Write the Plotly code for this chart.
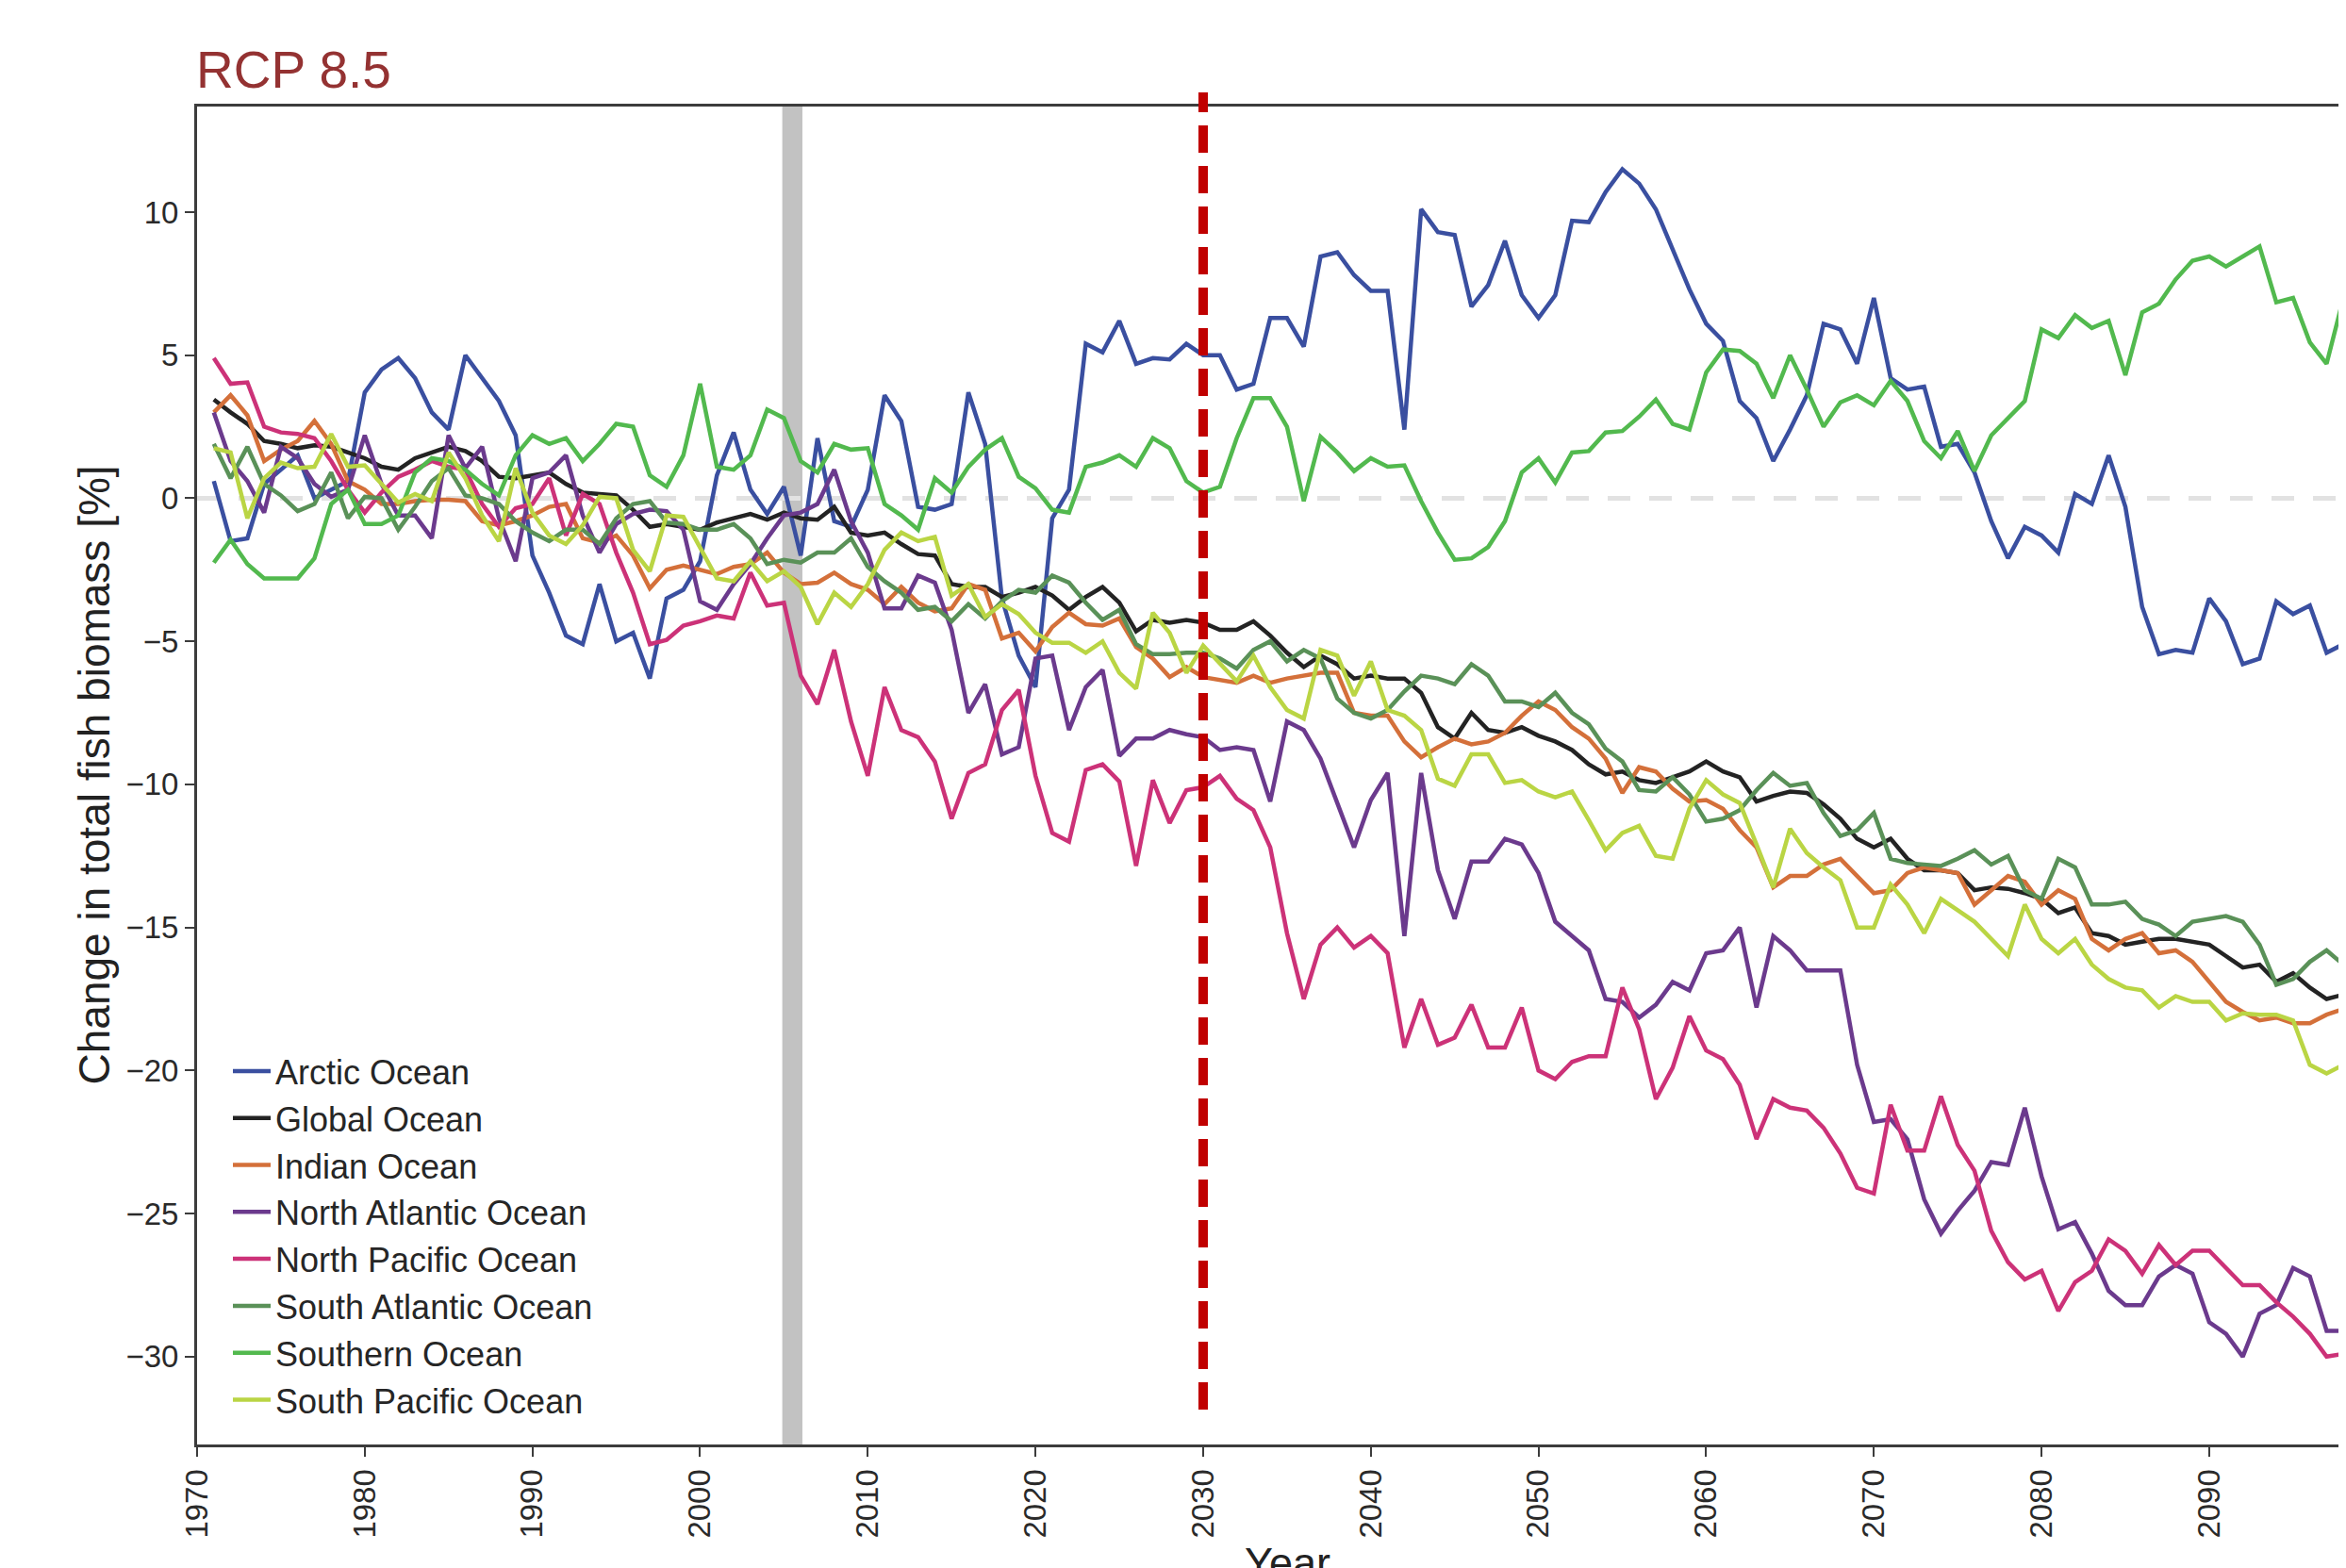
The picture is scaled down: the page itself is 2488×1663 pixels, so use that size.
import plotly.graph_objects as go

years = list(range(1971, 2101))

arctic = [0.6, -1.5, -1.4, 0.5, 1.0, 1.5, 0.0, 0.3, 0.6, 3.7,
          4.5, 4.9, 4.2, 3.0, 2.4, 5.0, 4.2, 3.4, 2.2, -2.0,
          -3.3, -4.8, -5.1, -3.0, -5.0, -4.7, -6.3, -3.5, -3.2, -2.2,
          0.8, 2.3, 0.3, -0.55, 0.4, -2.0, 2.1, -0.8, -1.0, 0.3,
          3.6, 2.7, -0.3, -0.4, -0.2, 3.7, 1.9, -3.5, -5.5, -6.6,
          -0.7, 0.3, 5.4, 5.1, 6.2, 4.7, 4.9, 4.85, 5.4, 5.0,
          5.0, 3.8, 4.0, 6.3, 6.3, 5.3, 8.45, 8.6, 7.8, 7.25,
          7.25, 2.4, 10.1, 9.3, 9.2, 6.7, 7.45, 9.0, 7.1, 6.3,
          7.1, 9.7, 9.65, 10.7, 11.5, 11.0, 10.1, 8.7, 7.3, 6.1,
          5.5, 3.4, 2.8, 1.3, 2.4, 3.6, 6.1, 5.9, 4.7, 7.0,
          4.2, 3.8, 3.9, 1.8, 1.9, 0.9, -0.8, -2.1, -1.0, -1.3,
          -1.9, 0.15, -0.2, 1.5, -0.3, -3.8, -5.45, -5.3, -5.4, -3.5,
          -4.3, -5.8, -5.6, -3.6, -4.05, -3.75, -5.4, -5.1, -5.0, -4.8]

global_ocean = [3.45, 3.0, 2.6, 2.0, 1.9, 1.75, 1.85, 1.8, 1.6, 1.4,
                1.1, 1.0, 1.4, 1.6, 1.8, 1.65, 1.3, 0.75, 0.7, 0.8,
                0.9, 0.5, 0.2, 0.15, 0.1, -0.4, -1.0, -0.9, -1.0, -1.1,
                -0.85, -0.7, -0.55, -0.75, -0.5, -0.7, -0.75, -0.3, -1.2, -1.3,
                -1.2, -1.6, -1.95, -2.0, -3.0, -3.1, -3.1, -3.45, -3.3, -3.1,
                -3.4, -3.9, -3.45, -3.1, -3.65, -4.65, -4.25, -4.35, -4.25, -4.35,
                -4.6, -4.6, -4.3, -4.8, -5.4, -5.9, -5.5, -5.8, -6.3, -6.2,
                -6.3, -6.3, -6.8, -8.0, -8.4, -7.5, -8.1, -8.2, -8.0, -8.3,
                -8.5, -8.8, -9.3, -9.65, -9.55, -9.85, -9.95, -9.75, -9.55, -9.2,
                -9.55, -9.75, -10.6, -10.4, -10.25, -10.3, -10.7, -11.2, -11.9, -12.2,
                -11.9, -12.6, -13.0, -13.0, -13.1, -13.7, -13.6, -13.65, -13.8, -14.0,
                -14.5, -14.3, -15.2, -15.3, -15.6, -15.5, -15.4, -15.4, -15.5, -15.6,
                -16.0, -16.4, -16.3, -16.9, -16.6, -17.1, -17.5, -17.35, -17.4, -17.5]

indian = [3.0, 3.6, 2.9, 1.3, 1.7, 2.0, 2.7, 1.9, 0.6, 0.3,
          -0.2, -0.2, -0.1, -0.05, -0.05, -0.1, -0.8, -0.95, -0.8, -0.6,
          -0.3, -0.2, -1.4, -1.55, -1.3, -2.0, -3.15, -2.5, -2.35, -2.5,
          -2.65, -2.4, -2.3, -1.9, -2.6, -3.0, -2.95, -2.6, -3.0, -3.2,
          -3.7, -3.1, -3.65, -3.95, -3.85, -3.0, -3.2, -4.9, -4.7, -5.35,
          -4.5, -4.0, -4.4, -4.45, -4.2, -5.2, -5.6, -6.25, -5.9, -6.25,
          -6.35, -6.45, -6.2, -6.45, -6.3, -6.2, -6.1, -6.1, -7.5, -7.6,
          -7.6, -8.5, -9.05, -8.7, -8.4, -8.6, -8.5, -8.2, -7.6, -7.1,
          -7.4, -8.0, -8.4, -9.1, -10.3, -9.4, -9.55, -10.15, -10.6, -10.55,
          -10.85, -11.6, -12.2, -13.6, -13.2, -13.2, -12.8, -12.6, -13.2, -13.8,
          -13.7, -13.1, -12.9, -13.0, -13.1, -14.2, -13.7, -13.2, -13.4, -14.2,
          -13.7, -14.0, -15.4, -15.8, -15.4, -15.2, -15.9, -15.8, -16.2, -16.9,
          -17.6, -17.95, -18.25, -18.15, -18.35, -18.35, -18.05, -17.85, -17.8, -17.7]

north_atlantic = [3.0, 1.3, 0.6, -0.5, 1.8, 1.4, 0.5, 0.05, 0.3, 2.2,
                  0.5, -0.6, -0.6, -1.4, 2.2, 1.05, 1.8, -0.7, -2.2, 0.7,
                  0.9, 1.5, -0.6, -1.9, -0.9, -0.55, -0.4, -0.45, -1.1, -3.6,
                  -3.9, -3.0, -2.3, -1.4, -0.6, -0.5, -0.2, 1.0, -0.8, -1.9,
                  -3.85, -3.85, -2.7, -2.95, -4.6, -7.5, -6.5, -8.95, -8.7, -5.6,
                  -5.5, -8.1, -6.6, -6.0, -9.0, -8.4, -8.4, -8.1, -8.25, -8.35,
                  -8.8, -8.7, -8.8, -10.6, -7.8, -8.1, -9.1, -10.6, -12.2, -10.55,
                  -9.6, -15.3, -9.6, -13.0, -14.7, -12.7, -12.7, -11.9, -12.1, -13.1,
                  -14.8, -15.3, -15.8, -17.5, -17.6, -18.15, -17.7, -16.9, -17.2, -15.9,
                  -15.8, -15.0, -17.8, -15.3, -15.8, -16.5, -16.5, -16.5, -19.8, -21.8,
                  -21.7, -22.4, -24.5, -25.7, -24.9, -24.2, -23.2, -23.3, -21.3, -23.7,
                  -25.55, -25.3, -26.4, -27.7, -28.2, -28.2, -27.2, -26.8, -27.1, -28.8,
                  -29.2, -30.0, -28.5, -28.2, -26.9, -27.2, -29.1, -29.1, -29.0, -29.2]

north_pacific = [4.9, 4.0, 4.05, 2.5, 2.3, 2.25, 2.1, 1.3, 0.3, -0.5,
                 0.2, 0.75, 1.0, 1.3, 1.1, 1.0, -0.2, -1.0, -0.35, -0.2,
                 0.7, -1.3, 0.15, -0.2, -1.9, -3.3, -5.1, -4.95, -4.45, -4.3,
                 -4.1, -4.2, -2.6, -3.75, -3.65, -6.2, -7.2, -5.3, -7.8, -9.7,
                 -6.6, -8.1, -8.35, -9.2, -11.2, -9.6, -9.3, -7.4, -6.7, -9.7,
                 -11.7, -12.0, -9.5, -9.3, -9.9, -12.85, -9.85, -11.35, -10.2, -10.1,
                 -9.7, -10.5, -10.9, -12.2, -15.2, -17.5, -15.6, -15.0, -15.7, -15.3,
                 -15.9, -19.2, -17.5, -19.1, -18.85, -17.7, -19.2, -19.2, -17.8, -20.0,
                 -20.3, -19.7, -19.5, -19.5, -17.1, -18.55, -21.0, -19.9, -18.1, -19.3,
                 -19.6, -20.5, -22.4, -21.0, -21.3, -21.4, -22.0, -22.9, -24.1, -24.3,
                 -21.2, -22.8, -22.8, -20.9, -22.6, -23.5, -25.6, -26.7, -27.3, -27.0,
                 -28.4, -27.4, -27.0, -25.9, -26.3, -27.1, -26.1, -26.8, -26.3, -26.3,
                 -26.9, -27.5, -27.5, -28.1, -28.6, -29.2, -30.0, -29.9, -29.9, -30.0]

south_atlantic = [1.9, 0.7, 1.8, 0.5, 0.1, -0.45, -0.2, 0.9, -0.7, 0.05,
                  0.0, -1.1, -0.3, 0.6, 1.05, 0.1, 0.0, -0.2, -0.8, -1.2,
                  -1.5, -1.1, -1.1, -1.6, -0.7, -0.2, -0.1, -0.85, -0.9, -1.1,
                  -1.1, -0.9, -1.4, -2.3, -2.15, -2.25, -1.9, -1.9, -1.4, -2.4,
                  -2.9, -3.3, -3.9, -3.8, -4.3, -3.7, -4.2, -3.6, -3.2, -3.3,
                  -2.7, -2.95, -3.65, -4.25, -3.9, -5.1, -5.45, -5.45, -5.4, -5.4,
                  -5.6, -5.95, -5.3, -5.0, -5.7, -5.3, -5.6, -7.0, -7.5, -7.7,
                  -7.4, -6.75, -6.2, -6.3, -6.5, -5.8, -6.2, -7.1, -7.1, -7.3,
                  -6.8, -7.5, -7.9, -8.75, -9.2, -10.2, -10.25, -9.75, -10.35, -11.3,
                  -11.2, -10.9, -10.2, -9.6, -10.05, -9.95, -11.0, -11.8, -11.6, -11.0,
                  -12.6, -12.75, -12.8, -12.85, -12.6, -12.3, -12.8, -12.5, -13.7, -14.0,
                  -12.6, -12.9, -14.2, -14.2, -14.1, -14.7, -14.9, -15.3, -14.8, -14.7,
                  -14.6, -14.8, -15.6, -17.0, -16.8, -16.2, -15.8, -16.3, -16.2, -16.4]

southern = [-2.25, -1.45, -2.3, -2.8, -2.8, -2.8, -2.1, -0.2, 0.3, -0.9,
            -0.9, -0.6, 0.9, 1.4, 1.3, 1.0, 0.5, 0.1, 1.5, 2.2,
            1.9, 2.1, 1.3, 1.9, 2.6, 2.5, 0.8, 0.4, 1.5, 4.0,
            1.1, 1.0, 1.5, 3.1, 2.8, 1.3, 0.9, 1.9, 1.7, 1.75,
            -0.2, -0.6, -1.1, 0.7, 0.2, 1.1, 1.7, 2.1, 0.75, 0.35,
            -0.4, -0.5, 1.1, 1.25, 1.5, 1.1, 2.1, 1.75, 0.6, 0.2,
            0.4, 2.1, 3.5, 3.5, 2.5, -0.1, 2.15, 1.6, 0.95, 1.4,
            1.1, 1.15, -0.1, -1.2, -2.15, -2.1, -1.7, -0.8, 0.9, 1.4,
            0.55, 1.6, 1.65, 2.3, 2.35, 2.85, 3.45, 2.6, 2.4, 4.4,
            5.2, 5.15, 4.7, 3.5, 5.0, 3.8, 2.5, 3.35, 3.6, 3.25,
            4.1, 3.4, 2.0, 1.4, 2.35, 0.95, 2.2, 2.8, 3.4, 5.9,
            5.6, 6.4, 5.95, 6.2, 4.3, 6.5, 6.8, 7.65, 8.3, 8.45,
            8.1, 8.45, 8.8, 6.85, 7.0, 5.45, 4.7, 7.0, 7.2, 7.0]

south_pacific = [1.75, 1.6, -0.7, 0.7, 1.25, 1.05, 1.1, 2.25, 1.1, 1.15,
                 0.5, -0.15, 0.15, -0.1, 1.6, 0.7, -0.6, -1.5, 1.05, -0.5,
                 -1.3, -1.6, -0.95, 0.05, 0.0, -1.8, -2.55, -0.6, -0.65, -1.7,
                 -2.8, -2.9, -2.2, -2.9, -2.55, -3.1, -4.4, -3.3, -3.8, -3.0,
                 -1.8, -1.2, -1.5, -1.35, -3.4, -3.0, -4.15, -3.7, -4.05, -4.7,
                 -5.05, -5.05, -5.4, -5.0, -6.1, -6.65, -4.0, -4.7, -6.1, -5.15,
                 -5.8, -6.4, -5.5, -6.6, -7.4, -7.7, -5.3, -5.5, -6.9, -5.7,
                 -7.4, -7.6, -8.1, -9.8, -10.05, -8.95, -8.95, -9.95, -9.85, -10.25,
                 -10.45, -10.25, -11.25, -12.3, -11.7, -11.45, -12.5, -12.6, -10.85, -9.85,
                 -10.35, -10.65, -12.1, -13.6, -11.55, -12.4, -12.9, -13.35, -15.0, -15.0,
                 -13.5, -14.2, -15.2, -14.0, -14.4, -14.8, -15.4, -16.0, -14.2, -15.4,
                 -15.9, -15.4, -16.3, -16.8, -17.1, -17.2, -17.8, -17.4, -17.6, -17.6,
                 -18.25, -18.0, -18.05, -18.05, -18.25, -19.8, -20.1, -19.8, -19.7, -19.6]

series_names = ["Arctic Ocean", "Global Ocean", "Indian Ocean", "North Atlantic Ocean",
                "North Pacific Ocean", "South Atlantic Ocean", "Southern Ocean",
                "South Pacific Ocean"]
series_values = [arctic, global_ocean, indian, north_atlantic, north_pacific,
                 south_atlantic, southern, south_pacific]
series_colors = ["#3a4fa0", "#232323", "#d4703a", "#6b3a8d", "#cc3278",
                 "#5a9158", "#52b94e", "#bad544"]

x_ticks = list(range(1970, 2100, 10))
y_ticks = list(range(-30, 11, 5))

FONT = "Arial, Liberation Sans, sans-serif"
OFF = 8                      # default page body margin
W, H = 2480, 1655
L, T, B = 201, 105, 131
plot_w = W - L
plot_h = H - T - B
PB = OFF + H - B             # page y of plot bottom
PL = OFF + L                 # page x of plot left

def py(page_y):
    return (PB - page_y) / plot_h

def px(page_x):
    return (page_x - PL) / plot_w

fig = go.Figure()
for name, vals, col in zip(series_names, series_values, series_colors):
    fig.add_trace(go.Scatter(x=years, y=vals, mode="lines", name=name,
                             line=dict(color=col, width=4.5)))

fig.add_shape(type="rect", xref="x", yref="paper", x0=2004.9, x1=2006.1, y0=0, y1=1,
              fillcolor="#c2c2c2", line=dict(width=0), layer="below")
fig.add_shape(type="line", xref="paper", yref="y", x0=0, x1=1, y0=0, y1=0,
              line=dict(color="#e2e2e2", width=5, dash="24px,20px"), layer="below")
fig.add_shape(type="line", xref="x", yref="paper", x0=2030, x1=2030,
              y0=py(1495), y1=py(98),
              line=dict(color="#c00000", width=10, dash="29px,14px"), layer="above")

fig.add_annotation(text="RCP 8.5", xref="paper", yref="paper", x=px(206), y=py(74),
                   xanchor="left", yanchor="middle", showarrow=False,
                   font=dict(family=FONT, size=55, color="#943232"))
fig.add_annotation(text="Year", xref="paper", yref="paper", x=px(1365),
                   y=py(1630), xanchor="center", yanchor="top",
                   showarrow=False, font=dict(family=FONT, size=45, color="#222222"))
fig.add_annotation(text="Change in total fish biomass [%]", xref="paper", yref="paper",
                   x=px(99), y=0.5, xanchor="center", yanchor="middle",
                   textangle=-90, showarrow=False,
                   font=dict(family=FONT, size=46, color="#222222"))

fig.update_layout(
    width=W, height=H,
    margin=dict(l=L, r=0, t=T, b=B),
    paper_bgcolor="white", plot_bgcolor="white",
    font=dict(family=FONT, size=33, color="#2a2a2a"),
    showlegend=True,
    legend=dict(x=px(242), y=py(1106), xanchor="left",
                yanchor="top", bgcolor="rgba(0,0,0,0)",
                font=dict(family=FONT, size=36, color="#262626"),
                itemwidth=40, tracegroupgap=0),
    xaxis=dict(range=[1970, 1970 + (2488 - PL) / 17.783], tickvals=x_ticks,
               ticktext=[str(v) for v in x_ticks], tickangle=-90,
               showline=True, linecolor="#3c3c3c", linewidth=3, mirror=True,
               ticks="outside", ticklen=10, tickwidth=2, tickcolor="#3c3c3c",
               showgrid=False, zeroline=False,
               tickfont=dict(family=FONT, size=33, color="#2a2a2a")),
    yaxis=dict(range=[-33.07, 13.69], tickvals=y_ticks,
               showline=True, linecolor="#3c3c3c", linewidth=3, mirror=False,
               ticks="outside", ticklen=10, tickwidth=2, tickcolor="#3c3c3c",
               showgrid=False, zeroline=False,
               tickfont=dict(family=FONT, size=33, color="#2a2a2a")),
)

fig.write_html("out.html")
